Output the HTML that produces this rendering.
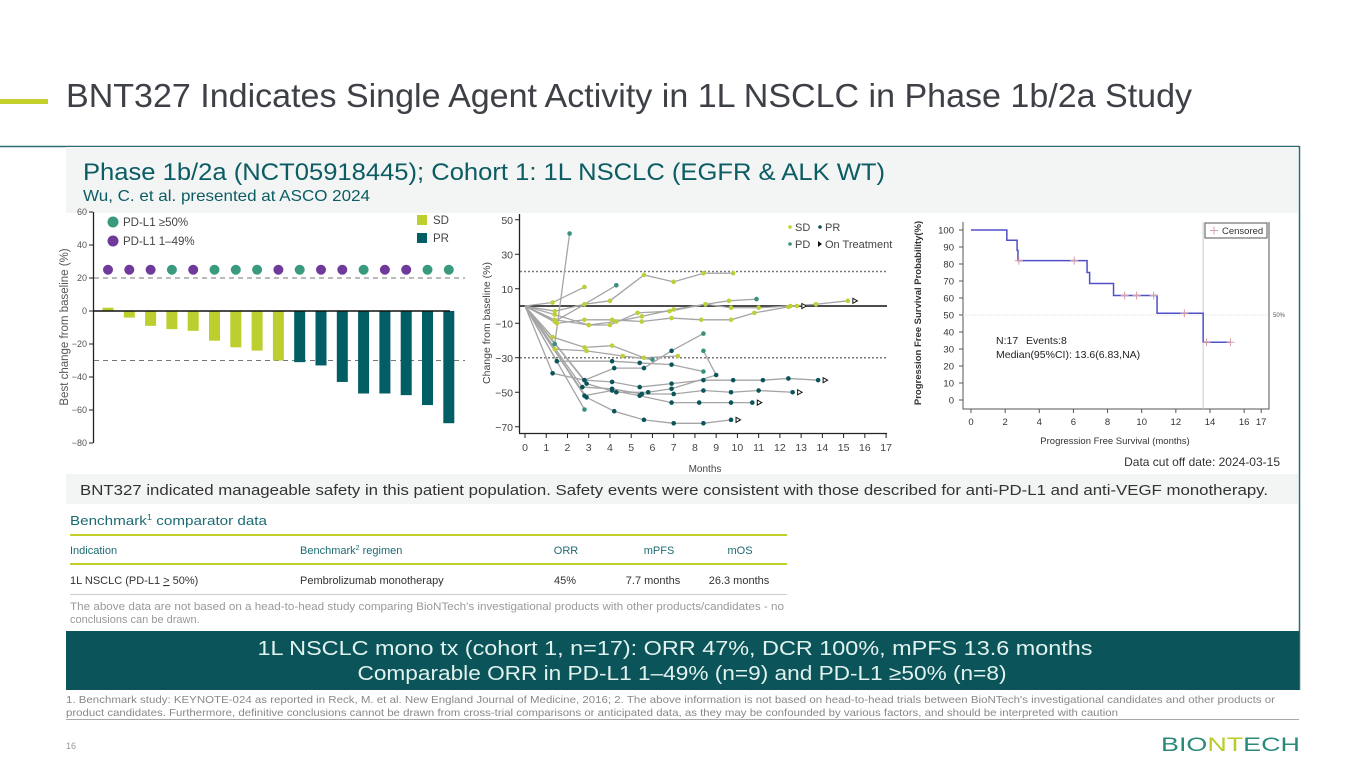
<!DOCTYPE html>
<html><head><meta charset="utf-8">
<style>
html,body{margin:0;padding:0;background:#fff;}
body{width:1365px;height:768px;position:relative;overflow:hidden;font-family:"Liberation Sans",sans-serif;}
svg{position:absolute;left:0;top:0;}
</style></head>
<body>
<svg id="s" width="1365" height="768" viewBox="0 0 1365 768" font-family="Liberation Sans, sans-serif">
  <rect x="0" y="99" width="48" height="5" fill="#c3cf2b"/>
  <text x="66" y="107" font-size="33" fill="#3d4046" textLength="1126" lengthAdjust="spacingAndGlyphs">BNT327 Indicates Single Agent Activity in 1L NSCLC in Phase 1b/2a Study</text>
  <line x1="0" y1="146.5" x2="1299.5" y2="146.5" stroke="#2f6d70" stroke-width="1.5"/>
  <line x1="1299.5" y1="146" x2="1299.5" y2="690" stroke="#2f6d70" stroke-width="1.5"/>
  <rect x="66" y="147" width="1232" height="66" fill="#f3f4f4"/>
  <text x="83" y="180" font-size="24" fill="#0b5c63" textLength="802" lengthAdjust="spacingAndGlyphs">Phase 1b/2a (NCT05918445); Cohort 1: 1L NSCLC (EGFR &amp; ALK WT)</text>
  <text x="83" y="201" font-size="16" fill="#0b5c63" textLength="287" lengthAdjust="spacingAndGlyphs">Wu, C. et al. presented at ASCO 2024</text>

  <g id="wf"></g>
  <g id="sp"></g>
  <g id="km"></g>

  <text x="1280" y="466" font-size="12" fill="#333" text-anchor="end">Data cut off date: 2024-03-15</text>
  <rect x="66" y="474" width="1232" height="30" fill="#f3f4f4"/>
  <text x="80" y="495" font-size="15" fill="#333" textLength="1188" lengthAdjust="spacingAndGlyphs">BNT327 indicated manageable safety in this patient population. Safety events were consistent with those described for anti-PD-L1 and anti-VEGF monotherapy.</text>

  <text x="70" y="525" font-size="13" fill="#1d6b72" textLength="197" lengthAdjust="spacingAndGlyphs">Benchmark<tspan font-size="8" dy="-5">1</tspan><tspan dy="5"> comparator data</tspan></text>
  <line x1="70" y1="535" x2="787" y2="535" stroke="#c3cf2b" stroke-width="2"/>
  <g font-size="11" fill="#1d6b72">
    <text x="70" y="554">Indication</text>
    <text x="300" y="554">Benchmark<tspan font-size="7" dy="-4">2</tspan><tspan dy="4"> regimen</tspan></text>
    <text x="566" y="554" text-anchor="middle">ORR</text>
    <text x="659" y="554" text-anchor="middle">mPFS</text>
    <text x="740" y="554" text-anchor="middle">mOS</text>
  </g>
  <line x1="70" y1="564" x2="787" y2="564" stroke="#c3cf2b" stroke-width="2"/>
  <g font-size="11" fill="#333">
    <text x="70" y="584">1L NSCLC (PD-L1 <tspan text-decoration="underline">&gt;</tspan> 50%)</text>
    <text x="300" y="584">Pembrolizumab monotherapy</text>
    <text x="565" y="584" text-anchor="middle">45%</text>
    <text x="653" y="584" text-anchor="middle">7.7 months</text>
    <text x="739" y="584" text-anchor="middle">26.3 months</text>
  </g>
  <line x1="70" y1="594.5" x2="787" y2="594.5" stroke="#ccc" stroke-width="1"/>
  <text x="70" y="610" font-size="11" fill="#999" textLength="714" lengthAdjust="spacingAndGlyphs">The above data are not based on a head-to-head study comparing BioNTech's investigational products with other products/candidates - no</text>
  <text x="70" y="623" font-size="11" fill="#999">conclusions can be drawn.</text>

  <rect x="66" y="631" width="1233" height="59" fill="#0b5459"/>
  <text x="675" y="655" font-size="20" fill="#e2f2ef" text-anchor="middle" textLength="835" lengthAdjust="spacingAndGlyphs">1L NSCLC mono tx (cohort 1, n=17): ORR 47%, DCR 100%, mPFS 13.6 months</text>
  <text x="682" y="680" font-size="20" fill="#e2f2ef" text-anchor="middle" textLength="649" lengthAdjust="spacingAndGlyphs">Comparable ORR in PD-L1 1–49% (n=9) and PD-L1 ≥50% (n=8)</text>

  <text x="66" y="703" font-size="10.5" fill="#888" textLength="1209" lengthAdjust="spacingAndGlyphs">1. Benchmark study: KEYNOTE-024 as reported in Reck, M. et al. New England Journal of Medicine, 2016; 2. The above information is not based on head-to-head trials between BioNTech's investigational candidates and other products or</text>
  <text x="66" y="716" font-size="10.5" fill="#888" textLength="1052" lengthAdjust="spacingAndGlyphs">product candidates. Furthermore, definitive conclusions cannot be drawn from cross-trial comparisons or anticipated data, as they may be confounded by various factors, and should be interpreted with caution</text>
  <line x1="66" y1="719.5" x2="1299" y2="719.5" stroke="#aaa" stroke-width="1"/>
  <text x="66" y="749" font-size="9" fill="#999">16</text>
  <text x="1161" y="751" font-size="19" fill="#2a8a7a" textLength="139" lengthAdjust="spacingAndGlyphs">BIO<tspan fill="#b9cc2a">NT</tspan>ECH</text>
</svg>
<script>
const NS='http://www.w3.org/2000/svg';
function mk(parent,tag,attrs,txt){const e=document.createElementNS(NS,tag);for(const k in attrs)e.setAttribute(k,attrs[k]);if(txt!==undefined)e.textContent=txt;parent.appendChild(e);return e;}

/* ---------- Waterfall data ---------- */
const wfValues=[2,-4,-9,-11,-12,-18,-22,-24,-30,-31,-33,-43,-50,-50,-51,-57,-68];
const wfResponse=['SD','SD','SD','SD','SD','SD','SD','SD','SD','PR','PR','PR','PR','PR','PR','PR','PR'];
const wfPDL1=['low','low','low','high','low','high','high','high','low','high','low','low','high','low','low','high','high'];
const wfTicks=[60,40,20,0,-20,-40,-60,-80];

/* ---------- Spider data ---------- */
const spTimes=[
 [0,1.3,2.8],
 [0,1.4,2.1],
 [0,1.4,2.8,4.3],
 [0,1.4,2.8,4.0,5.6,7,8.4,9.8],
 [0,1.4,3,4,5.3,6.8,8.5,9.6,10.9],
 [0,1.5,2.8,4.1,5.5,6.9,8.3,9.7,10.8,12.4,12.8],
 [0,1.4,3,4.3,5.5,7,8.5,9.7,11,12.5,13.7,15.2],
 [0,1.3,2.8,4.1,5.6,7.2],
 [0,1.4,2.9,4.6,6],
 [0,1.5,4.1,5.4,6.9,8.4],
 [0,1.3,2.8,4.2,5.6,6.9,8.4],
 [0,2.8,4.1,5.4,6.9,8.4,9.8,11.2,12.4,13.8],
 [0,2.7,4.1,5.5,7,8.4,9.7,11,12.6],
 [0,2.8,4.1,5.4,6.9,8.2,9.7,10.7],
 [0,2.9,4.2,5.6,7,8.4,9.7],
 [0,2.8],
 [0,2.9,4.3,5.8,6.9,9,8.4]
];
const spValues=[
 [0,2,11],
 [0,-22,42],
 [0,-3,1,12],
 [0,-9,1,3,18,14,19,19],
 [0,-5,-11,-11,-4,-3,1,3,4],
 [0,-10,-8,-8,-9,-7,-8,-8,-4,-0.5,0],
 [0,-8,-11,-9,-6,-2,1,-1,-1,0,1,3],
 [0,-18,-24,-23,-30,-29],
 [0,-25,-26,-29,-31],
 [0,-32,-32,-33,-34,-38],
 [0,-39,-43,-36,-36,-26,-16],
 [0,-43,-44,-47,-45,-43,-43,-43,-42,-43],
 [0,-47,-48,-51,-51,-49,-50,-49,-50],
 [0,-52,-49,-52,-56,-56,-56,-56],
 [0,-53,-61,-66,-68,-68,-66],
 [0,-60],
 [0,-45,-50,-50,-48,-40,-26]
];
const spResponse=['SD','PD','SD','SD','SD','SD','SD','SD','SD','PR','PR','PR','PR','PR','PR','PD','PR'];
const spEnd=['SD','PD','PD','SD','PD','SD','SD','SD','PD','PD','PD','PR','PR','PR','PR','PD','PD'];
const spOngoing=[false,false,false,false,false,true,true,false,false,false,false,true,true,true,true,false,false];
const spYTicks=[50,30,10,-10,-30,-50,-70];
const spXTicks=[0,1,2,3,4,5,6,7,8,9,10,11,12,13,14,15,16,17];

/* ---------- KM data ---------- */
const kmTimes=[0,2.1,2.7,2.75,6.8,6.95,8.35,10.9,13.6,15.2];
const kmSurv=[100,94,88,82,75,68.5,61.5,51,34,34];
const kmCensorT=[2.8,6.05,9,9.7,10.7,12.5,13.8,15.2];
const kmCensorS=[82,82,61.5,61.5,61.5,51,34,34];
const kmYTicks=[100,90,80,70,60,50,40,30,20,10,0];
const kmXTicks=[0,2,4,6,8,10,12,14,16,17];

/* ===== Waterfall ===== */
(function(){
 const g=document.getElementById('wf');
 const y=v=>311-v*1.65, x=i=>108+i*21.3;
 const axis=mk(g,'line',{x1:93.5,y1:212,x2:93.5,y2:443,stroke:'#222','stroke-width':1.3});
 
 
 wfTicks.forEach(t=>{
  const tk=mk(g,'line',{x1:89,y1:y(t),x2:93,y2:y(t),stroke:'#222'});
  
  
  const lb=mk(g,'text',{x:87,y:y(t)+3,'font-size':9,fill:'#555','text-anchor':'end'},t<0?'−'+(-t):String(t));
  
  
 });
 const yt=mk(g,'text',{x:0,y:0,'font-size':11.5,fill:'#555','text-anchor':'middle',transform:'translate(68,327) rotate(-90)'},'Best change from baseline (%)');
 
 
 [20,-30].forEach(v=>{
  const d=mk(g,'line',{x1:94,y1:y(v),x2:465,y2:y(v),stroke:'#777','stroke-dasharray':'5,4'});
  
  
 });
 wfValues.forEach((v,i)=>{
  const top=Math.min(y(v),y(0)),h=Math.abs(y(v)-y(0));
  const b=mk(g,'rect',{x:x(i)-5.5,y:top,width:11,height:h,fill:wfResponse[i]==='SD'?'#bccf2e':'#015e65'});
  
  
  const c=mk(g,'circle',{cx:x(i),cy:y(25),r:5,fill:wfPDL1[i]==='high'?'#3a9a7e':'#6f3a9b'});
  
  
 });
 const z=mk(g,'line',{x1:93,y1:y(0),x2:450,y2:y(0),stroke:'#111','stroke-width':1.5});
 
 
 [['#3a9a7e','PD-L1 ≥50%',222],['#6f3a9b','PD-L1 1–49%',241]].forEach(l=>{
  const c=mk(g,'circle',{cx:113,cy:l[2],r:5.5,fill:l[0]});
  
  
  const t=mk(g,'text',{x:123,y:l[2]+4,'font-size':11.5,fill:'#444'},l[1]);
  
  
 });
 [['#bccf2e','SD',215],['#015e65','PR',233]].forEach(l=>{
  const r=mk(g,'rect',{x:417,y:l[2],width:10,height:10,fill:l[0]});
  
  
  const t=mk(g,'text',{x:433,y:l[2]+9,'font-size':11.5,fill:'#444'},l[1]);
  
  
 });
})();

/* ===== Spider ===== */
(function(){
 const g=document.getElementById('sp');
 const x=t=>525+t*21.24, y=v=>306-v*1.725;
 const col={SD:'#bfcf3a',PR:'#0b5459',PD:'#3a8f7f'};
 const ax=mk(g,'line',{x1:519.5,y1:214,x2:519.5,y2:433,stroke:'#222','stroke-width':1.3});
 
 
 const bx=mk(g,'line',{x1:519,y1:433.5,x2:887,y2:433.5,stroke:'#222','stroke-width':1.3});
 
 
 spYTicks.forEach(t=>{
  const tk=mk(g,'line',{x1:515,y1:y(t),x2:519,y2:y(t),stroke:'#222'});
  
  
  const lb=mk(g,'text',{x:513,y:y(t)+4,'font-size':10.5,fill:'#444','text-anchor':'end'},t<0?'−'+(-t):String(t));
  
  
 });
 spXTicks.forEach(t=>{
  const tk=mk(g,'line',{x1:x(t),y1:434,x2:x(t),y2:438,stroke:'#222'});
  
  
  const lb=mk(g,'text',{x:x(t),y:451,'font-size':10.5,fill:'#444','text-anchor':'middle'},String(t));
  
  
 });
 const xt=mk(g,'text',{x:705,y:472,'font-size':10,fill:'#444','text-anchor':'middle'},'Months');
 
 
 const yt=mk(g,'text',{x:0,y:0,'font-size':10.5,fill:'#444','text-anchor':'middle',transform:'translate(490,323) rotate(-90)'},'Change from baseline (%)');
 
 
 [20,-30].forEach(v=>{
  const d=mk(g,'line',{x1:520,y1:y(v),x2:887,y2:y(v),stroke:'#777','stroke-width':1.5,'stroke-dasharray':'2,2'});
  
  
 });
 const z=mk(g,'line',{x1:520,y1:y(0),x2:887,y2:y(0),stroke:'#111','stroke-width':1.5});
 
 
 spTimes.forEach((ts,i)=>{
  const pts=ts.map((t,j)=>x(t)+','+y(spValues[i][j])).join(' ');
  const pl=mk(g,'polyline',{points:pts,fill:'none',stroke:'#a5a5a5','stroke-width':1.3});
  
  
 });
 spTimes.forEach((ts,i)=>{
  ts.forEach((t,j)=>{
   if(j===0)return;
   const st=j===ts.length-1?spEnd[i]:spResponse[i];
   const c=mk(g,'circle',{cx:x(t),cy:y(spValues[i][j]),r:2.3,fill:col[st]});
   
   
  });
  if(spOngoing[i]){
   const lt=ts[ts.length-1],lv=spValues[i][ts.length-1];
   const px=x(lt)+7,py=y(lv);
   const tr=mk(g,'polygon',{points:(px-2)+','+(py-2.5)+' '+(px+2.5)+','+py+' '+(px-2)+','+(py+2.5),fill:'#fff',stroke:'#111','stroke-width':1});
   
   
  }
 });
 const L=[[790,228,'#bfcf3a','SD','c'],[820,228,'#0b5459','PR','c'],[790,245,'#3a8f7f','PD','c'],[820,245,'#111','On Treatment','t']];
 L.forEach(l=>{
  if(l[4]==='c'){const c=mk(g,'circle',{cx:l[0],cy:l[1]-1,r:1.8,fill:l[2]});}
  else{const p=mk(g,'polygon',{points:(l[0]-2)+','+(l[1]-4)+' '+(l[0]+2)+','+(l[1]-1)+' '+(l[0]-2)+','+(l[1]+2),fill:'#111'});}
  const t=mk(g,'text',{x:l[0]+5,y:l[1]+3,'font-size':11,fill:'#444'},l[3]);
  
  
 });
})();

/* ===== KM ===== */
(function(){
 const g=document.getElementById('km');
 const x=t=>971+t*17.07, y=s=>400-s*1.7;
 const ax=mk(g,'polyline',{points:'963,222 963,409 1269,409 1269,222',fill:'none',stroke:'#555','stroke-width':1});
 
 
 kmYTicks.forEach(t=>{
  const tk=mk(g,'line',{x1:959,y1:y(t),x2:963,y2:y(t),stroke:'#555'});
  
  
  const lb=mk(g,'text',{x:954,y:y(t)+3.5,'font-size':9.5,fill:'#333','text-anchor':'end'},String(t));
  
  
 });
 kmXTicks.forEach(t=>{
  const tk=mk(g,'line',{x1:x(t),y1:409,x2:x(t),y2:413,stroke:'#555'});
  
  
  const lb=mk(g,'text',{x:x(t),y:425,'font-size':9.5,fill:'#333','text-anchor':'middle'},String(t));
  
  
 });
 const xt=mk(g,'text',{x:1115,y:444,'font-size':9.5,fill:'#333','text-anchor':'middle'},'Progression Free Survival (months)');
 
 
 const yt=mk(g,'text',{x:0,y:0,'font-size':9.5,fill:'#333','font-weight':'bold','text-anchor':'middle',transform:'translate(921,313) rotate(-90)'},'Progression Free Survival Probability(%)');
 
 
 const h50=mk(g,'line',{x1:963,y1:y(50),x2:1269,y2:y(50),stroke:'#ddd','stroke-dasharray':'1,1'});
 
 
 const vm=mk(g,'line',{x1:x(13.6),y1:222,x2:x(13.6),y2:409,stroke:'#ccc'});
 
 
 const l50=mk(g,'text',{x:1273,y:y(50)+2,'font-size':6,fill:'#555'},'50%');
 
 
 let d='M'+x(kmTimes[0])+','+y(kmSurv[0]);
 for(let i=1;i<kmTimes.length;i++){d+=' H'+x(kmTimes[i])+' V'+y(kmSurv[i]);}
 const p=mk(g,'path',{d:d,fill:'none',stroke:'#5050c8','stroke-width':1.5});
 
 
 kmCensorT.forEach((t,i)=>{
  const cx=x(t),cy=y(kmCensorS[i]);
  const c=mk(g,'path',{d:'M'+(cx-4)+','+cy+' H'+(cx+4)+' M'+cx+','+(cy-4)+' V'+(cy+4),stroke:'#d7a0a8','stroke-width':1});
  
  
 });
 const lb=mk(g,'rect',{x:1205,y:223,width:62,height:15,fill:'#fff',stroke:'#555'});
 
 
 const lm=mk(g,'path',{d:'M1210,230.5 H1218 M1214,226.5 V234.5',stroke:'#d7a0a8'});
 
 
 const lt=mk(g,'text',{x:1222,y:234,'font-size':9.5,fill:'#333'},'Censored');
 
 
 const s1=mk(g,'text',{x:996,y:344,'font-size':10.5,fill:'#222'},'N:17');
 
 
 const s1b=mk(g,'text',{x:1026,y:344,'font-size':10.5,fill:'#222'},'Events:8');
 
 
 const s2=mk(g,'text',{x:996,y:358,'font-size':10.5,fill:'#222'},'Median(95%CI): 13.6(6.83,NA)');
 
 
})();
</script>
</body></html>
